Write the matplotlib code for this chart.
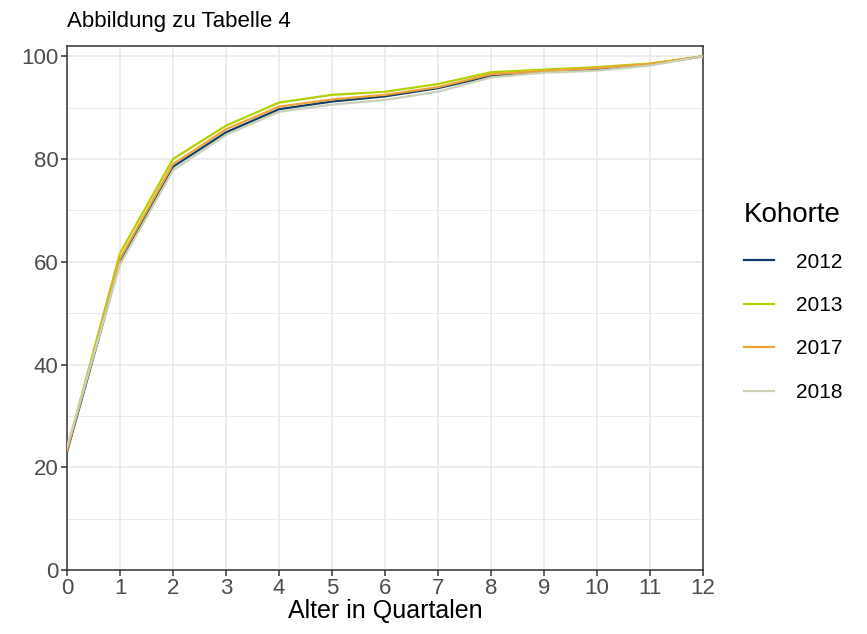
import numpy as np
import matplotlib.pyplot as plt

plt.rcParams['font.family'] = ['Liberation Sans', 'DejaVu Sans']

# Daten
quartale = list(range(13))
kohorten = ['2012', '2013', '2017', '2018']
werte_2012 = [23.0, 60.0, 78.5, 85.2, 89.7, 91.2, 92.2, 93.8, 96.2, 97.0, 97.5, 98.4, 100.0]
werte_2013 = [23.5, 61.7, 80.0, 86.5, 91.0, 92.5, 93.1, 94.6, 96.9, 97.4, 97.9, 98.6, 100.0]
werte_2017 = [23.3, 60.6, 79.0, 85.8, 90.2, 91.6, 92.5, 94.0, 96.5, 97.1, 97.7, 98.5, 100.0]
werte_2018 = [24.0, 59.5, 77.8, 84.7, 89.2, 90.6, 91.5, 93.1, 95.9, 96.8, 97.2, 98.2, 100.0]
farben = ['#0e3f6b', '#b4d100', '#f0a23a', '#c9d1b6']

fig = plt.figure(figsize=(8.67, 6.34), dpi=100)
ax = fig.add_axes([0.0773, 0.1009, 0.7335, 0.8265])

for name, werte, farbe in zip(kohorten, [werte_2012, werte_2013, werte_2017, werte_2018], farben):
    ax.plot(quartale, werte, color=farbe, lw=1.6, label=name, zorder=3)

ax.set_xlim(0, 12)
ax.set_ylim(0, 102)
ax.set_xticks(quartale)
ax.set_yticks([0, 20, 40, 60, 80, 100])
ax.set_yticks([10, 30, 50, 70, 90], minor=True)
ax.grid(True, which='major', color='#ebebeb', lw=1.3, zorder=0)
ax.grid(True, which='minor', axis='y', color='#ebebeb', lw=0.7, zorder=0)
ax.tick_params(which='minor', length=0)
ax.tick_params(which='major', length=4, width=1.1, color='#333333',
               labelsize=16, labelcolor='#4d4d4d', pad=2)
for s in ax.spines.values():
    s.set_color('#333333')
    s.set_linewidth(1.1)

ax.set_xlabel('Alter in Quartalen', fontsize=18, labelpad=0)
ax.set_title('Abbildung zu Tabelle 4', loc='left', fontsize=16, pad=14, x=0.0)

leg = ax.legend(title='Kohorte', loc='upper left', bbox_to_anchor=(0.8365, 0.7105),
                bbox_transform=fig.transFigure,
                frameon=False, fontsize=15, title_fontsize=20,
                handlelength=1.45, labelspacing=1.17, handletextpad=1.05)
leg._legend_box.align = 'left'

fig.savefig('out.png', dpi=100)
